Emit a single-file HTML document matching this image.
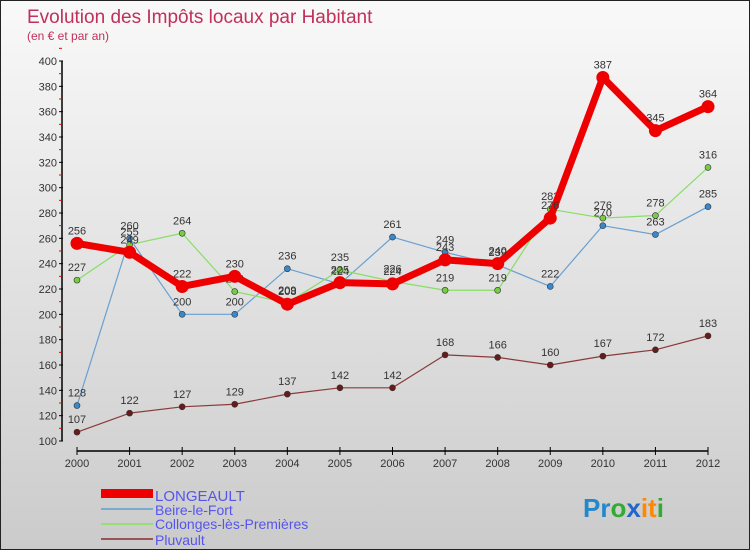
<!DOCTYPE html>
<html><head><meta charset="utf-8"><style>
body{margin:0;}
#c{width:750px;height:550px;position:relative;box-sizing:border-box;border:1px solid #222;background:linear-gradient(#f9f9f9,#cbcbcb);font-family:"Liberation Sans",sans-serif;overflow:hidden;}
text{font-family:"Liberation Sans",sans-serif;}
</style></head><body>
<div id="c">
<svg id="s" width="750" height="550" xmlns="http://www.w3.org/2000/svg">
<text x="26" y="22" font-size="19" fill="#c0305a">Evolution des Impôts locaux par Habitant</text>
<text x="26" y="39" font-size="12" fill="#c0305a">(en € et par an)</text>
<g id="axes"></g><g id="series"></g>
<g>
<rect x="100" y="488" width="52" height="9" fill="#e00"/>
<text x="154" y="500" font-size="15" fill="#5555ee">LONGEAULT</text>
<line x1="100" y1="508" x2="152" y2="508" stroke="#7aaad0" stroke-width="2"/>
<text x="154" y="514" font-size="14" fill="#5555ee">Beire-le-Fort</text>
<line x1="100" y1="523" x2="152" y2="523" stroke="#99dd77" stroke-width="2"/>
<text x="154" y="528" font-size="14" fill="#5555ee">Collonges-lès-Premières</text>
<line x1="100" y1="538" x2="152" y2="538" stroke="#995555" stroke-width="2"/>
<text x="154" y="544" font-size="14" fill="#5555ee">Pluvault</text>
</g>
<text x="582" y="516" font-size="26" font-weight="bold"><tspan fill="#2288cc">Pr</tspan><tspan fill="#33aa33">o</tspan><tspan fill="#2266cc">x</tspan><tspan fill="#ff8800">it</tspan><tspan fill="#33aa33">i</tspan></text>
</svg>
</div>
<script>
const years=[2000,2001,2002,2003,2004,2005,2006,2007,2008,2009,2010,2011,2012];
const yTicks=[100,120,140,160,180,200,220,240,260,280,300,320,340,360,380,400];
const longeault=[256,249,222,230,208,225,224,243,240,276,387,345,364];
const beire=[128,260,200,200,236,224,261,249,239,222,270,263,285];
const collonges=[227,255,264,218,209,235,226,219,219,283,276,278,316];
const pluvault=[107,122,127,129,137,142,142,168,166,160,167,172,183];
const NS="http://www.w3.org/2000/svg";
function X(i){return 76+i*(707-76)/(years.length-1);}
function Y(v){return 440-(v-100)*(380/300);}
function mk(t,a,p){const e=document.createElementNS(NS,t);for(const k in a)e.setAttribute(k,a[k]);p.appendChild(e);return e;}
const ax=document.getElementById('axes');
let yl=mk('line',{x1:61,y1:Y(400),x2:61,y2:Y(100),stroke:'#000','stroke-width':1.5},ax);


yTicks.forEach(v=>{
 mk('line',{x1:58,y1:Y(v),x2:62,y2:Y(v),stroke:'#000'},ax);
 mk('line',{x1:58,y1:Y(v+10),x2:61,y2:Y(v+10),stroke:'#e00'},ax);
 const t=mk('text',{x:56,y:Y(v)+4,'font-size':11,fill:'#333','text-anchor':'end'},ax);t.textContent=v;
 
 
});
let xl=mk('line',{x1:X(0),y1:450,x2:X(12),y2:450,stroke:'#000','stroke-width':1.5},ax);


years.forEach((y,i)=>{
 mk('line',{x1:X(i),y1:446,x2:X(i),y2:454,stroke:'#000'},ax);
 const t=mk('text',{x:X(i),y:466,'font-size':11,fill:'#333','text-anchor':'middle'},ax);t.textContent=y;
 
 
});
const sg=document.getElementById('series');
function series(d,name,col,w,r,dot){
 const g=mk('g',{},sg);
 
 
 mk('polyline',{points:d.map((v,i)=>X(i)+','+Y(v)).join(' '),fill:'none',stroke:col,'stroke-width':w,'stroke-linejoin':'round'},g);
 d.forEach((v,i)=>{
  const c=mk('circle',{cx:X(i),cy:Y(v),r:r,fill:dot,stroke:w>3?'none':'#333','stroke-width':0.6},g);
  
  
  const t=mk('text',{x:X(i),y:Y(v)-9,'font-size':11,fill:'#333','text-anchor':'middle'},g);t.textContent=v;
  
  
 });
}
series(pluvault,'pluvault','#8b3a3a',1.2,3,'#6b1a1a');
series(beire,'beire','#6aa0d0',1.2,3,'#3a88cc');
series(collonges,'collonges','#88dd66',1.2,3,'#77cc44');
series(longeault,'longeault','#ee0000',7,6.5,'#ee0000');
</script>
</body></html>
